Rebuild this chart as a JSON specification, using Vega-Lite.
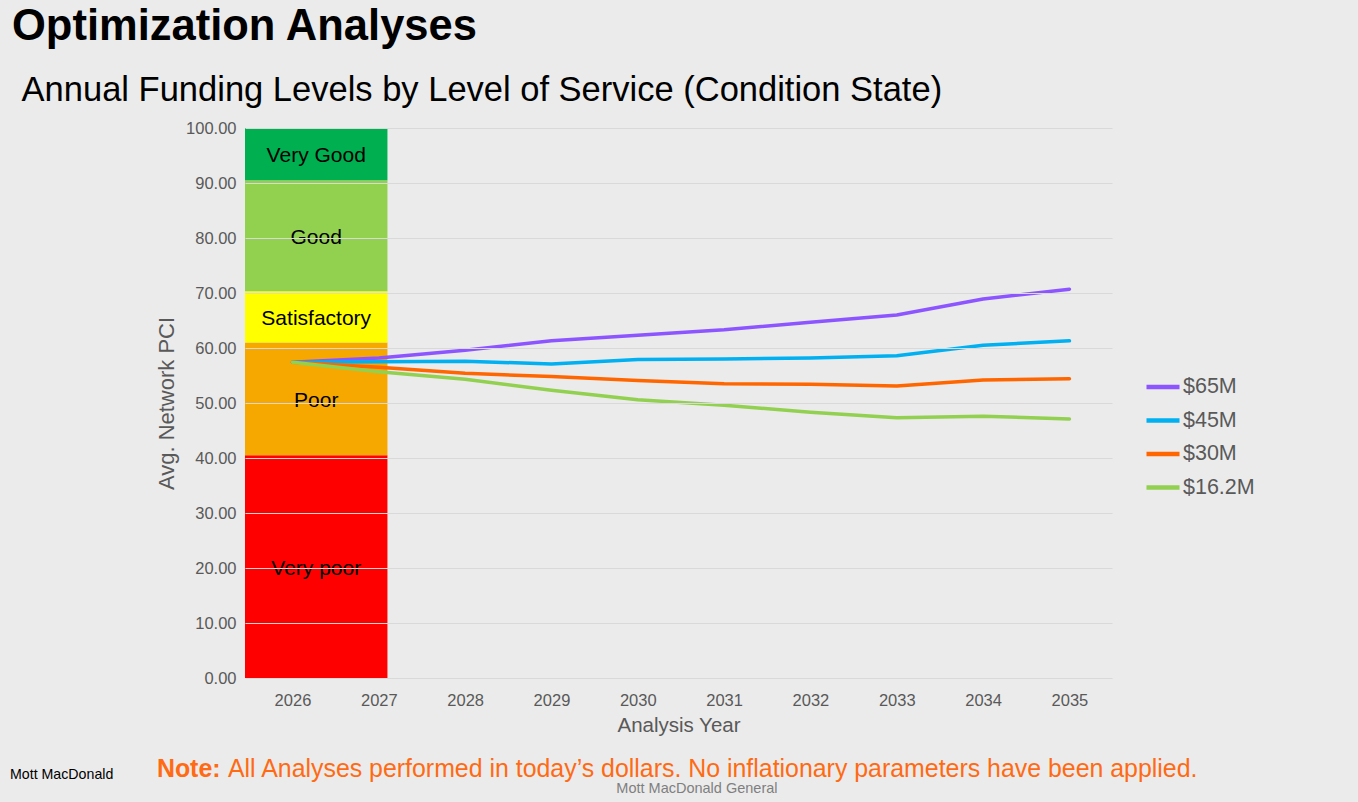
{
  "$schema": "https://vega.github.io/schema/vega-lite/v6.json",
  "width": 867,
  "height": 550,
  "autosize": {"type": "none"},
  "padding": {"left": 245, "top": 128, "right": 246, "bottom": 124},
  "background": "#EBEBEB",
  "config": {
    "font": "Liberation Sans",
    "view": {"stroke": null},
    "axis": {"labelColor": "#595959", "titleColor": "#595959", "titleFontWeight": "normal", "domain": false, "ticks": false}
  },
  "title": {
    "text": "Optimization Analyses",
    "subtitle": "\u200b\u00a0Annual Funding Levels by Level of Service (Condition State)",
    "anchor": "start",
    "frame": "group",
    "dx": -233,
    "offset": 12,
    "fontSize": 43.5,
    "fontWeight": "bold",
    "color": "#000000",
    "subtitleFontSize": 34.5,
    "subtitleColor": "#000000",
    "subtitlePadding": 24
  },
  "datasets": {
    "bands": [
      {"level": "Very poor", "lo": 0, "hi": 40.5},
      {"level": "Poor", "lo": 40.5, "hi": 61},
      {"level": "Satisfactory", "lo": 61, "hi": 70.3},
      {"level": "Good", "lo": 70.3, "hi": 90.5},
      {"level": "Very Good", "lo": 90.5, "hi": 100}
    ],
    "series": [
      {"year": 2026, "budget": "$65M", "pci": 57.4},
      {"year": 2027, "budget": "$65M", "pci": 58.2},
      {"year": 2028, "budget": "$65M", "pci": 59.6},
      {"year": 2029, "budget": "$65M", "pci": 61.3},
      {"year": 2030, "budget": "$65M", "pci": 62.3},
      {"year": 2031, "budget": "$65M", "pci": 63.3},
      {"year": 2032, "budget": "$65M", "pci": 64.7},
      {"year": 2033, "budget": "$65M", "pci": 66.0},
      {"year": 2034, "budget": "$65M", "pci": 68.9},
      {"year": 2035, "budget": "$65M", "pci": 70.7},
      {"year": 2026, "budget": "$45M", "pci": 57.4},
      {"year": 2027, "budget": "$45M", "pci": 57.5},
      {"year": 2028, "budget": "$45M", "pci": 57.6},
      {"year": 2029, "budget": "$45M", "pci": 57.1},
      {"year": 2030, "budget": "$45M", "pci": 57.9},
      {"year": 2031, "budget": "$45M", "pci": 58.0},
      {"year": 2032, "budget": "$45M", "pci": 58.2},
      {"year": 2033, "budget": "$45M", "pci": 58.6},
      {"year": 2034, "budget": "$45M", "pci": 60.5},
      {"year": 2035, "budget": "$45M", "pci": 61.3},
      {"year": 2026, "budget": "$30M", "pci": 57.4},
      {"year": 2027, "budget": "$30M", "pci": 56.5},
      {"year": 2028, "budget": "$30M", "pci": 55.4},
      {"year": 2029, "budget": "$30M", "pci": 54.8},
      {"year": 2030, "budget": "$30M", "pci": 54.1},
      {"year": 2031, "budget": "$30M", "pci": 53.5},
      {"year": 2032, "budget": "$30M", "pci": 53.4},
      {"year": 2033, "budget": "$30M", "pci": 53.1},
      {"year": 2034, "budget": "$30M", "pci": 54.2},
      {"year": 2035, "budget": "$30M", "pci": 54.4},
      {"year": 2026, "budget": "$16.2M", "pci": 57.4},
      {"year": 2027, "budget": "$16.2M", "pci": 55.7},
      {"year": 2028, "budget": "$16.2M", "pci": 54.3},
      {"year": 2029, "budget": "$16.2M", "pci": 52.3},
      {"year": 2030, "budget": "$16.2M", "pci": 50.6},
      {"year": 2031, "budget": "$16.2M", "pci": 49.6},
      {"year": 2032, "budget": "$16.2M", "pci": 48.3},
      {"year": 2033, "budget": "$16.2M", "pci": 47.3},
      {"year": 2034, "budget": "$16.2M", "pci": 47.6},
      {"year": 2035, "budget": "$16.2M", "pci": 47.1}
    ],
    "notes": [{"note": "Note:", "body": "All Analyses performed in today\u2019s dollars. No inflationary parameters have been applied.", "left": "Mott MacDonald", "center": "Mott MacDonald General"}]
  },
  "encoding": {
    "x": {
      "type": "quantitative",
      "scale": {"domain": [2025.45, 2035.493], "nice": false, "zero": false},
      "axis": {
        "title": "Analysis Year",
        "values": [2026, 2027, 2028, 2029, 2030, 2031, 2032, 2033, 2034, 2035],
        "format": "d",
        "grid": false,
        "labelFontSize": 16.5,
        "labelPadding": 14,
        "titleFontSize": 20.5,
        "titlePadding": 7
      }
    },
    "y": {
      "type": "quantitative",
      "scale": {"domain": [0, 100], "nice": false, "zero": false},
      "axis": {
        "title": "Avg. Network PCI",
        "values": [0, 10, 20, 30, 40, 50, 60, 70, 80, 90, 100],
        "format": ".2f",
        "grid": true,
        "gridColor": "#D9D9D9",
        "gridWidth": 1,
        "labelFontSize": 16.5,
        "labelPadding": 9,
        "titleFontSize": 22,
        "titlePadding": 7,
        "zindex": 1
      }
    }
  },
  "layer": [
    {
      "data": {"name": "bands"},
      "mark": {"type": "rect"},
      "encoding": {
        "x": {"datum": 2025.45},
        "x2": {"datum": 2027.1},
        "y": {"field": "lo"},
        "y2": {"field": "hi"},
        "fill": {
          "field": "level",
          "type": "nominal",
          "scale": {"domain": ["Very poor", "Poor", "Satisfactory", "Good", "Very Good"], "range": ["#FF0000", "#F7A800", "#FFFF00", "#92D050", "#00B050"]},
          "legend": null
        }
      }
    },
    {
      "data": {"name": "bands"},
      "transform": [{"calculate": "(datum.lo + datum.hi) / 2", "as": "mid"}],
      "mark": {"type": "text", "fontSize": 21, "color": "#000000", "baseline": "middle", "align": "center", "dy": 2},
      "encoding": {
        "x": {"datum": 2026.275},
        "y": {"field": "mid", "type": "quantitative"},
        "text": {"field": "level"}
      }
    },
    {
      "data": {"name": "series"},
      "mark": {"type": "line", "strokeWidth": 3.5, "strokeCap": "round", "strokeJoin": "round"},
      "encoding": {
        "x": {"field": "year"},
        "y": {"field": "pci"},
        "stroke": {
          "field": "budget",
          "type": "nominal",
          "sort": ["$65M", "$45M", "$30M", "$16.2M"],
          "scale": {"domain": ["$65M", "$45M", "$30M", "$16.2M"], "range": ["#8C55FF", "#00B0F0", "#FF6600", "#92D050"]},
          "legend": {
            "title": null,
            "orient": "none",
            "legendX": 899,
            "legendY": 240,
            "symbolType": "stroke",
            "symbolSize": 1089,
            "symbolStrokeWidth": 4.5,
            "rowPadding": 3.5,
            "labelOffset": 1,
            "labelFontSize": 21.5,
            "labelColor": "#595959"
          }
        }
      }
    },
    {
      "data": {"name": "notes"},
      "mark": {"type": "text", "fontSize": 24.9, "fontWeight": "bold", "color": "#FF6A13", "align": "left", "baseline": "alphabetic"},
      "encoding": {"x": {"datum": 2024.43}, "y": {"datum": -18.0}, "text": {"field": "note"}}
    },
    {
      "data": {"name": "notes"},
      "mark": {"type": "text", "fontSize": 24.9, "color": "#FF6A13", "align": "left", "baseline": "alphabetic"},
      "encoding": {"x": {"datum": 2025.253}, "y": {"datum": -18.0}, "text": {"field": "body"}}
    },
    {
      "data": {"name": "notes"},
      "mark": {"type": "text", "fontSize": 14.2, "color": "#000000", "align": "left", "baseline": "middle"},
      "encoding": {"x": {"datum": 2022.728}, "y": {"datum": -17.7}, "text": {"field": "left"}}
    },
    {
      "data": {"name": "notes"},
      "mark": {"type": "text", "fontSize": 14.5, "color": "#7F7F7F", "align": "center", "baseline": "middle"},
      "encoding": {"x": {"datum": 2030.685}, "y": {"datum": -20.1}, "text": {"field": "center"}}
    }
  ]
}
